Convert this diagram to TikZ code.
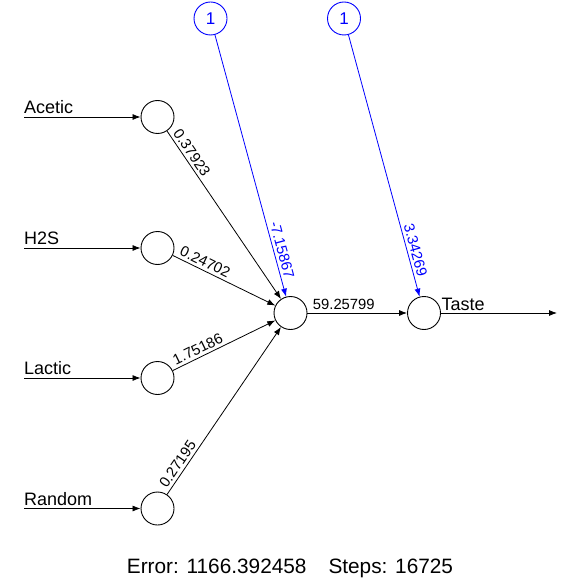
\documentclass[tikz,border=0pt]{standalone}
\usepackage{fontspec}
\setmainfont{Liberation Sans}
\usetikzlibrary{arrows.meta}
\definecolor{biasblue}{RGB}{0,0,255}
\tikzset{
  neuron/.style={circle,draw,minimum size=33pt,inner sep=0pt,line width=0.9pt},
  biasnode/.style={neuron,draw=biasblue,text=biasblue,font=\fontsize{17}{17}\selectfont},
  conn/.style={line width=0.8pt,-{Latex[length=8pt,width=6pt]}},
  biasconn/.style={conn,draw=biasblue},
  wlabel/.style={font=\fontsize{14.8}{14.8}\selectfont,sloped,above,inner sep=3pt},
  blabel/.style={wlabel,text=biasblue},
  varlabel/.style={font=\fontsize{18}{18}\selectfont,inner sep=0pt,anchor=base west}
}
\begin{document}
\begin{tikzpicture}[x=1pt,y=-1pt]
\useasboundingbox (0,0) rectangle (569,585);
% input neurons
\node[neuron] (i1) at (157.5,117) {};
\node[neuron] (i2) at (157.5,248) {};
\node[neuron] (i3) at (157.5,378) {};
\node[neuron] (i4) at (157.5,508.5) {};
% hidden, output
\node[neuron] (h) at (290.5,313) {};
\node[neuron] (o) at (424,313) {};
% bias
\node[biasnode] (b1) at (210.5,18.5) {1};
\node[biasnode] (b2) at (344,18.5) {1};
% input lines
\coordinate (s1) at (24,117);
\coordinate (s2) at (24,248);
\coordinate (s3) at (24,378);
\coordinate (s4) at (24,508.5);
\coordinate (e) at (557,313);
\draw[conn] (s1) -- (i1);
\draw[conn] (s2) -- (i2);
\draw[conn] (s3) -- (i3);
\draw[conn] (s4) -- (i4);
\node[varlabel] (l1) at (24,113.5) {Acetic};
\node[varlabel] (l2) at (24,244.5) {H2S};
\node[varlabel] (l3) at (24,374.5) {Lactic};
\node[varlabel] (l4) at (24,505) {Random};
% connections
\draw[conn] (i1) -- (h);
\draw[conn] (i2) -- (h);
\draw[conn] (i3) -- (h);
\draw[conn] (i4) -- (h);
\draw[conn] (h) -- (o);
\draw[biasconn] (b1) -- (h);
\draw[biasconn] (b2) -- (o);
% weight labels
\path (i1) -- node[wlabel,pos=0.157] {0.37923} (h);
\path (i2) -- node[wlabel,pos=0.28] {0.24702} (h);
\path (i3) -- node[wlabel,pos=0.28] {1.75186} (h);
\path (i4) -- node[wlabel,pos=0.154] {0.27195} (h);
\path (h) -- node[wlabel,pos=0.365] {59.25799} (o);
\path (b1) -- node[blabel,pos=0.83] {-7.15867} (h);
\path (b2) -- node[blabel,pos=0.83] {3.34269} (o);
% output
\draw[conn] (o) -- (e);
\node[varlabel] (lo) at (441.5,310) {Taste};
% footer
\node[font=\fontsize{20.8}{20.8}\selectfont,anchor=base,inner sep=0pt] (err) at (290,573) {Error: 1166.392458\hspace{22pt}Steps: 16725};
\end{tikzpicture}
\end{document}
